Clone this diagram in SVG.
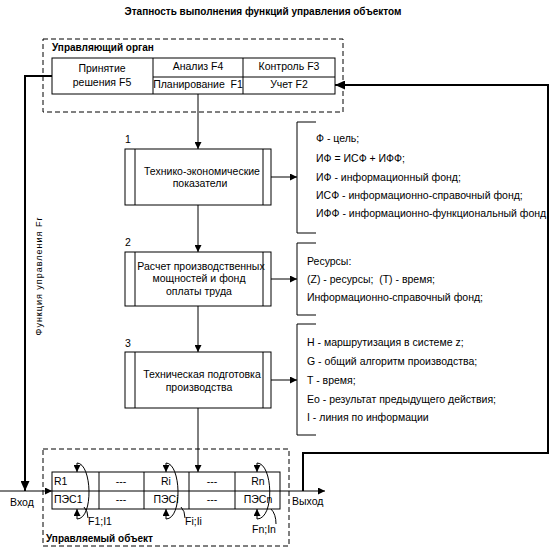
<svg xmlns="http://www.w3.org/2000/svg" width="555" height="560" viewBox="0 0 555 560">
<defs>
<style>
text{font-family:"Liberation Sans",Arial,sans-serif;font-size:10.5px;fill:#000}
.b{font-weight:bold;font-size:10px}
.m{text-anchor:middle}
.ln{fill:none;stroke:#000;stroke-width:1}
.th{fill:none;stroke:#000;stroke-width:2}
.box{fill:#fff;stroke:#000;stroke-width:1}
.dash{fill:none;stroke:#000;stroke-width:1;stroke-dasharray:5,3}
</style>
<marker id="a" markerWidth="7" markerHeight="7" refX="7" refY="3.5" orient="auto" markerUnits="userSpaceOnUse"><path d="M0,0 L7,3.5 L0,7 z" fill="#000"/></marker>
<marker id="A" markerWidth="10" markerHeight="9" refX="10" refY="4.5" orient="auto" markerUnits="userSpaceOnUse"><path d="M0,0 L10,4.5 L0,9 z" fill="#000"/></marker>
</defs>
<rect width="555" height="560" fill="#fff"/>
<text class="b m" x="263" y="15">Этапность выполнения функций управления объектом</text>

<g id="control-organ">
<rect class="dash" x="43" y="39" width="300" height="73"/>
<text class="b" x="52" y="51">Управляющий орган</text>
<rect class="box" x="52" y="58" width="283" height="36"/>
<line class="ln" x1="153" y1="58" x2="153" y2="94"/>
<line class="ln" x1="243" y1="58" x2="243" y2="94"/>
<line class="ln" x1="153" y1="77" x2="335" y2="77"/>
<text class="m" x="102" y="72">Принятие</text>
<text class="m" x="102" y="86">решения F5</text>
<text class="m" x="198" y="70">Анализ F4</text>
<text class="m" x="289" y="70">Контроль F3</text>
<text class="m" x="198" y="88">Планирование&#160;&#160;F1</text>
<text class="m" x="289" y="88">Учет F2</text>
</g>

<g id="step1">
<text x="125" y="143">1</text>
<rect class="box" x="125" y="149" width="146" height="56"/>
<line class="ln" x1="135" y1="149" x2="135" y2="205"/>
<line class="ln" x1="263" y1="149" x2="263" y2="205"/>
<text class="m" x="202" y="175">Технико-экономические</text>
<text class="m" x="200" y="187">показатели</text>
</g>

<g id="step2">
<text x="125" y="246">2</text>
<rect class="box" x="125" y="252" width="146" height="54"/>
<line class="ln" x1="135" y1="252" x2="135" y2="306"/>
<line class="ln" x1="263" y1="252" x2="263" y2="306"/>
<text class="m" x="201" y="270">Расчет производственных</text>
<text class="m" x="199" y="282">мощностей и фонд</text>
<text class="m" x="199" y="295">оплаты труда</text>
</g>

<g id="step3">
<text x="125" y="347">3</text>
<rect class="box" x="125" y="352" width="146" height="56"/>
<line class="ln" x1="135" y1="352" x2="135" y2="408"/>
<line class="ln" x1="263" y1="352" x2="263" y2="408"/>
<text class="m" x="202" y="378">Техническая подготовка</text>
<text class="m" x="199" y="391">производства</text>
</g>

<g id="note1">
<path class="ln" d="M316,122 H297 V233 H316"/>
<text x="316" y="142">Ф - цель;</text>
<text x="316" y="162">ИФ = ИСФ + ИФФ;</text>
<text x="316" y="181">ИФ - информационный фонд;</text>
<text x="316" y="199">ИСФ - информационно-справочный фонд;</text>
<text x="316" y="217">ИФФ - информационно-функциональный фонд</text>
</g>

<g id="note2">
<path class="ln" d="M316,243 H297 V315 H316"/>
<text x="307" y="265">Ресурсы:</text>
<text x="307" y="283">(Z) - ресурсы;&#160;&#160;(T) - время;</text>
<text x="307" y="301">Информационно-справочный фонд;</text>
</g>

<g id="note3">
<path class="ln" d="M316,324 H297 V435 H316"/>
<text x="307" y="346">H - маршрутизация в системе z;</text>
<text x="307" y="365">G - общий алгоритм производства;</text>
<text x="307" y="384">T - время;</text>
<text x="307" y="403">Eo - результат предыдущего действия;</text>
<text x="307" y="421">I - линия по информации</text>
</g>

<g id="controlled-object">
<rect class="dash" x="43" y="449" width="246" height="97"/>
<text class="b" x="46" y="542">Управляемый объект</text>
<rect class="box" x="52" y="472" width="228" height="37"/>
<line class="ln" x1="52" y1="491" x2="280" y2="491"/>
<line class="ln" x1="99" y1="472" x2="99" y2="509"/>
<line class="ln" x1="144" y1="472" x2="144" y2="509"/>
<line class="ln" x1="189" y1="472" x2="189" y2="509"/>
<line class="ln" x1="235" y1="472" x2="235" y2="509"/>
<text x="54" y="485">R1</text>
<text class="m" x="121" y="485">---</text>
<text class="m" x="166" y="485">Ri</text>
<text class="m" x="212" y="485">---</text>
<text class="m" x="258" y="485">Rn</text>
<text x="54" y="503">ПЭС1</text>
<text class="m" x="121" y="503">---</text>
<text class="m" x="166" y="503">ПЭСi</text>
<text class="m" x="212" y="503">---</text>
<text class="m" x="258" y="503">ПЭСn</text>
<text x="88" y="525">F1;I1</text>
<text x="185" y="525">Fi;Ii</text>
<text x="252" y="533">Fn;In</text>
<text x="10" y="506">Вход</text>
<text x="292" y="505">Выход</text>
</g>

<g id="connectors">
<line class="ln" x1="198" y1="94" x2="198" y2="149" marker-end="url(#a)"/>
<line class="ln" x1="198" y1="205" x2="198" y2="252" marker-end="url(#a)"/>
<line class="ln" x1="198" y1="306" x2="198" y2="352" marker-end="url(#a)"/>
<line class="ln" x1="198" y1="408" x2="198" y2="472" marker-end="url(#a)"/>
<line class="ln" x1="271" y1="177" x2="297" y2="177" marker-end="url(#a)"/>
<line class="ln" x1="271" y1="279" x2="297" y2="279" marker-end="url(#a)"/>
<line class="ln" x1="271" y1="380" x2="297" y2="380" marker-end="url(#a)"/>
<path class="th" d="M52,76 H25 V491" marker-end="url(#A)"/>
<path class="th" d="M303,491 V453 H548 V85 H335" marker-end="url(#A)"/>
<line class="ln" x1="0" y1="491" x2="52" y2="491" marker-end="url(#a)"/>
<line class="ln" x1="280" y1="491" x2="325" y2="491" marker-end="url(#a)"/>
<path class="ln" d="M77,463 C92,463 94,519 77,519"/>
<line class="ln" x1="77" y1="463" x2="77" y2="472" marker-end="url(#a)"/>
<line class="ln" x1="77" y1="519" x2="77" y2="509" marker-end="url(#a)"/>
<path class="ln" d="M84,507 Q88,511 88,518"/>
<path class="ln" d="M166,463 C181,463 183,519 166,519"/>
<line class="ln" x1="166" y1="463" x2="166" y2="472" marker-end="url(#a)"/>
<line class="ln" x1="166" y1="519" x2="166" y2="509" marker-end="url(#a)"/>
<path class="ln" d="M181,507 Q185,511 185,518"/>
<path class="ln" d="M257,463 C273,463 275,519 257,519"/>
<line class="ln" x1="257" y1="463" x2="257" y2="472" marker-end="url(#a)"/>
<line class="ln" x1="257" y1="519" x2="257" y2="509" marker-end="url(#a)"/>
<path class="ln" d="M271,509 Q276,514 276,524"/>
</g>

<text transform="translate(42,276) rotate(-90)" class="m" style="font-size:9px;letter-spacing:1px">Функция управления Fr</text>
</svg>
